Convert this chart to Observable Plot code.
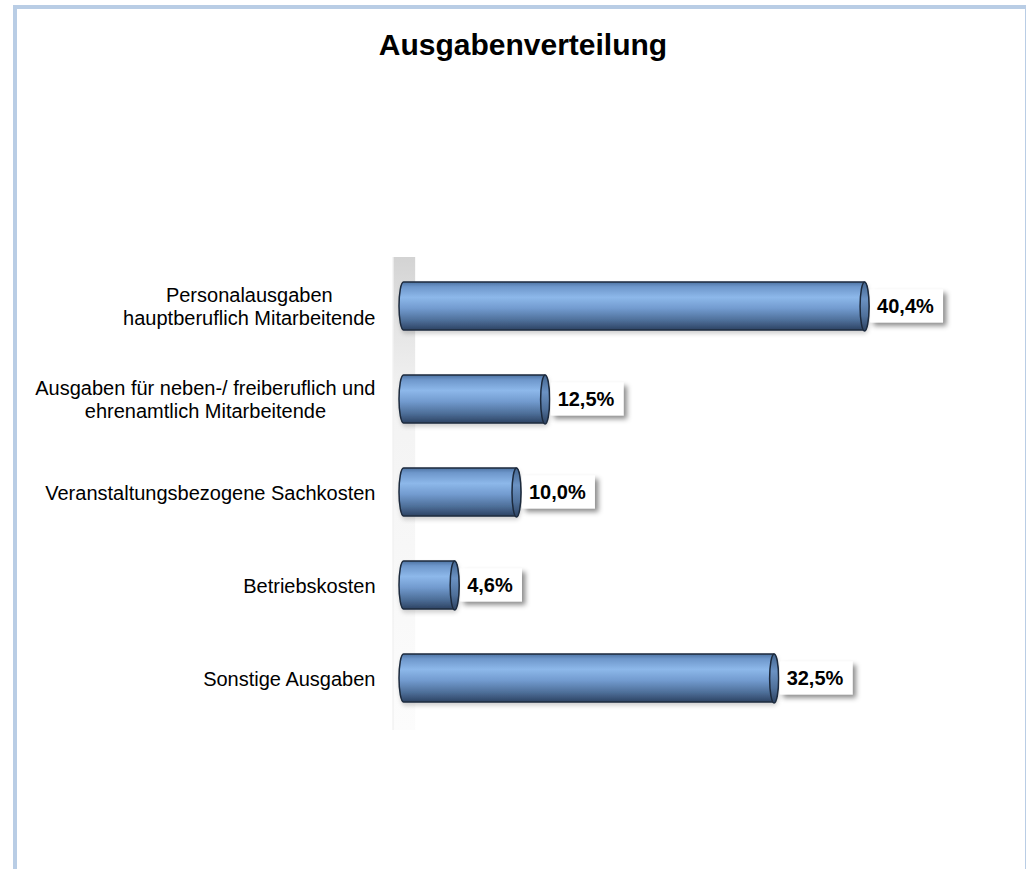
<!DOCTYPE html>
<html>
<head>
<meta charset="utf-8">
<script src="https://cdn.jsdelivr.net/npm/d3@7"></script>
<script src="https://cdn.jsdelivr.net/npm/@observablehq/plot@0.6"></script>
<style>
  html, body { margin: 0; padding: 0; background: #fff; }
  body { width: 1027px; height: 869px; position: relative; overflow: hidden; font-family: "Liberation Sans", Arial, sans-serif; }
  #frame { position: absolute; left: 13px; top: 5px; width: 1008px; height: 900px;
           border-left: 4px solid #b9cde5; border-top: 4px solid #b9cde5; border-right: 1px solid #b9cde5; }
  #title { position: absolute; left: 13px; width: 1020px; top: 30px; text-align: center;
           font-size: 30px; line-height: 30px; font-weight: bold; color: #000; }
  #chart { position: absolute; left: 0; top: 90px; }
</style>
</head>
<body>
<div id="frame"></div>
<div id="title">Ausgabenverteilung</div>
<div id="chart"></div>
<script>
// ---- data ----
const categories = [
  "Personalausgaben\nhauptberuflich Mitarbeitende",
  "Ausgaben für neben-/ freiberuflich und\nehrenamtlich Mitarbeitende",
  "Veranstaltungsbezogene Sachkosten",
  "Betriebskosten",
  "Sonstige Ausgaben"
];
const values = [40.4, 12.5, 10.0, 4.6, 32.5];
const valueLabels = ["40,4%", "12,5%", "10,0%", "4,6%", "32,5%"];

const data = categories.map((c, i) => ({category: c, value: values[i], label: valueLabels[i]}));

// ellipse symbol for the cylinder end face
const RX = 4.5, RY = 24.5;
const ellipse = {
  draw(ctx) {
    const k = 0.5523;
    ctx.moveTo(RX, 0);
    ctx.bezierCurveTo(RX, RY * k, RX * k, RY, 0, RY);
    ctx.bezierCurveTo(-RX * k, RY, -RX, RY * k, -RX, 0);
    ctx.bezierCurveTo(-RX, -RY * k, -RX * k, -RY, 0, -RY);
    ctx.bezierCurveTo(RX * k, -RY, RX, -RY * k, RX, 0);
    ctx.closePath();
  }
};

const plot = Plot.plot({
  width: 1027,
  height: 760,
  marginLeft: 406,
  marginRight: 48.5,
  marginTop: 167,
  marginBottom: 120,
  style: {fontFamily: "'Liberation Sans', Arial, sans-serif", fontSize: "20px", background: "transparent", color: "#000"},
  x: {domain: [0, 50], axis: null},
  y: {domain: categories, range: [144.7, 659.4], padding: 0.48, label: null},
  marks: [
    // 3D back wall
    Plot.rect([0], {x1: -1.1, x2: 0.8, fill: "url(#wallGrad)"}),
    Plot.ruleX([0], {dx: -13.5, stroke: "#ececec", strokeWidth: 1}),
    // cylinder bodies
    Plot.barX(data, {x1: 0, x2: "value", y: "category", rx: RX, ry: RY, insetLeft: -7,
      fill: "url(#barGrad)", stroke: "#1c2a3d", strokeWidth: 1.5}),
    // cylinder end faces
    Plot.dot(data, {x: "value", y: "category", dx: -RX, symbol: ellipse, r: 5,
      fill: "url(#capGrad)", stroke: "#1c2a3d", strokeWidth: 1.5}),
    // value labels
    Plot.text(data, {x: "value", y: "category", text: "label", dx: 8, textAnchor: "start",
      fontSize: 20, fontWeight: "bold", fill: "#000"}),
    Plot.axisY({tickSize: 0, tickPadding: 31, fontSize: 20, lineHeight: 1.15, label: null})
  ]
});

document.getElementById("chart").appendChild(plot);

// defs: gradients + shadow
const ns = "http://www.w3.org/2000/svg";
const defs = document.createElementNS(ns, "defs");
defs.innerHTML = `
  <linearGradient id="barGrad" x1="0" y1="0" x2="0" y2="1">
    <stop offset="0" stop-color="#4d73a3"/>
    <stop offset="0.1" stop-color="#6e97cb"/>
    <stop offset="0.32" stop-color="#8db8ea"/>
    <stop offset="0.55" stop-color="#729bcf"/>
    <stop offset="0.8" stop-color="#4e6f99"/>
    <stop offset="1" stop-color="#2d4363"/>
  </linearGradient>
  <linearGradient id="capGrad" x1="0" y1="0" x2="0" y2="1">
    <stop offset="0" stop-color="#43658f"/>
    <stop offset="0.35" stop-color="#6b92c3"/>
    <stop offset="0.7" stop-color="#4f709a"/>
    <stop offset="1" stop-color="#2c4160"/>
  </linearGradient>
  <linearGradient id="wallGrad" x1="0" y1="0" x2="0" y2="1">
    <stop offset="0" stop-color="#d3d3d3"/>
    <stop offset="0.12" stop-color="#e2e2e2"/>
    <stop offset="0.3" stop-color="#f3f3f3"/>
    <stop offset="1" stop-color="#fcfcfc"/>
  </linearGradient>
  <filter id="boxShadow" x="-20%" y="-30%" width="150%" height="170%">
    <feDropShadow dx="3.5" dy="3.5" stdDeviation="2.6" flood-color="#000" flood-opacity="0.45"/>
  </filter>
  <filter id="barShadow" x="-5%" y="-20%" width="110%" height="160%">
    <feDropShadow dx="1" dy="3" stdDeviation="2" flood-color="#000" flood-opacity="0.18"/>
  </filter>`;
plot.insertBefore(defs, plot.firstChild);

const barGroup = plot.querySelector('g[aria-label="bar"]');
if (barGroup) barGroup.setAttribute("filter", "url(#barShadow)");

// white label boxes with shadow behind the value labels
const textGroup = plot.querySelector('g[aria-label="text"]');
if (textGroup) {
  textGroup.querySelectorAll("text").forEach(t => {
    const b = t.getBBox();
    const r = document.createElementNS(ns, "rect");
    r.setAttribute("x", b.x - 7);
    r.setAttribute("y", b.y + b.height / 2 - 16.5);
    r.setAttribute("width", b.width + 16);
    r.setAttribute("height", 33);
    r.setAttribute("fill", "#fff");
    r.setAttribute("filter", "url(#boxShadow)");
    if (t.getAttribute("transform")) r.setAttribute("transform", t.getAttribute("transform"));
    textGroup.insertBefore(r, t);
  });
}

// center multi-line category labels on their longest line
const tickGroup = plot.querySelector('g[aria-label="y-axis tick label"]');
if (tickGroup) {
  tickGroup.querySelectorAll("text").forEach(t => {
    const spans = t.querySelectorAll("tspan");
    if (spans.length > 1) {
      let w = 0;
      spans.forEach(s => { w = Math.max(w, s.getComputedTextLength()); });
      t.setAttribute("text-anchor", "middle");
      spans.forEach(s => s.setAttribute("x", -w / 2));
    }
  });
}
</script>
</body>
</html>
